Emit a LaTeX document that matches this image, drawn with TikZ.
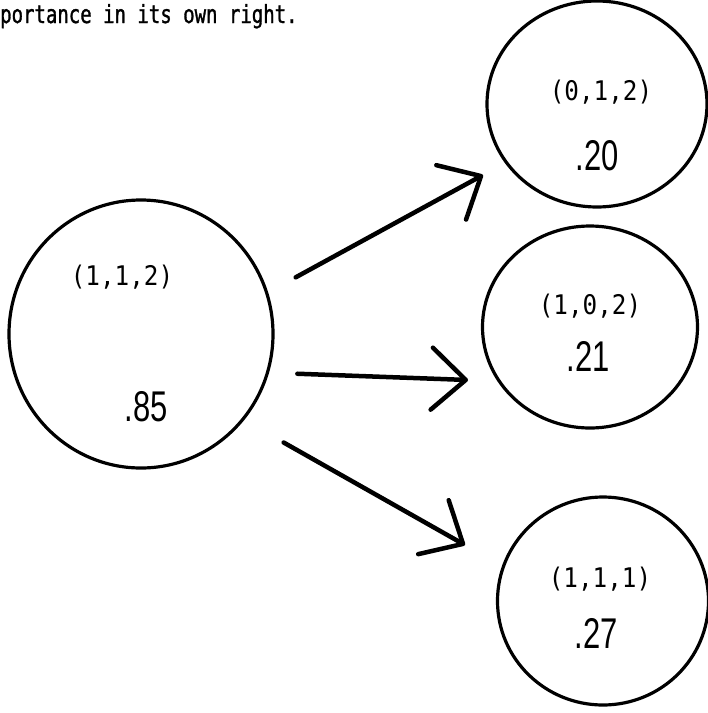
\documentclass[tikz,border=0pt]{standalone}
\usepackage{fontspec}
\setmainfont{DejaVu Sans Mono}
\newfontfamily\capfont[FakeStretch=0.76,FakeBold=1.2]{DejaVu Sans Mono}
\newfontfamily\tuplefont[FakeStretch=0.9]{DejaVu Sans Mono}
\newfontfamily\numfont[FakeStretch=0.72]{Liberation Sans}
\usetikzlibrary{arrows.meta,shapes.geometric}
\begin{document}
\begin{tikzpicture}[x=1pt,y=-1pt,
  state/.style={ellipse, draw, line width=3.2pt, inner sep=0pt, outer sep=0pt},
  tuple/.style={font=\tuplefont\fontsize{27}{27}\selectfont, inner sep=0pt},
  prob/.style={font=\numfont\fontsize{43}{43}\selectfont, inner sep=0pt},
  arr/.style={line width=4.5pt, line cap=round,
    -{Straight Barb[length=34pt,width=62pt,round]}}]
\useasboundingbox (0,0) rectangle (708,713);

% running text above the figure
\node[anchor=base west, inner sep=0pt, font=\capfont\fontsize{25}{25}\selectfont]
  (caption) at (0,23) {portance in its own right.};

% states
\node[state, minimum width=264pt, minimum height=268pt] (L) at (141,334) {};
\node[state, minimum width=220pt, minimum height=206pt] (T) at (597,104) {};
\node[state, minimum width=215pt, minimum height=202pt] (M) at (590,327) {};
\node[state, minimum width=211pt, minimum height=208pt] (B) at (603,601) {};

% labels inside the states
\node[tuple] (Lt) at (122,277) {(1,1,2)};
\node[prob]  (Lp) at (146,407) {.85};
\node[tuple] (Tt) at (601,92)  {(0,1,2)};
\node[prob]  (Tp) at (597,156) {.20};
\node[tuple] (Mt) at (590,306) {(1,0,2)};
\node[prob]  (Mp) at (588,356) {.21};
\node[tuple] (Bt) at (600,579) {(1,1,1)};
\node[prob]  (Bp) at (596,633) {.27};

% arrow tips
\coordinate (t1) at (483,175);
\coordinate (t2) at (468,380);
\coordinate (t3) at (465,545);

\draw[arr, shorten <=33pt] (L.18)  -- (t1);
\draw[arr, shorten <=30pt] (L.-17) -- (t2);
\draw[arr, shorten <=47pt] (L.-40) -- (t3);
\end{tikzpicture}
\end{document}
